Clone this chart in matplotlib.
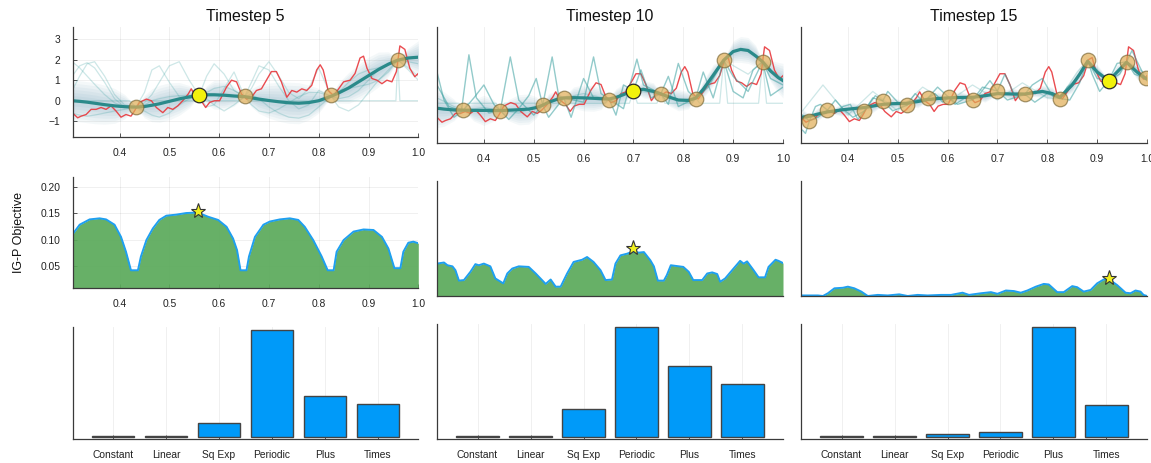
import numpy as np
import matplotlib
matplotlib.use("Agg")
import matplotlib.pyplot as plt

plt.rcParams['font.family'] = ['Liberation Sans', 'DejaVu Sans']

# ---------------- data ----------------
titles = ["Timestep 5", "Timestep 10", "Timestep 15"]
kernels = ["Constant", "Linear", "Sq Exp", "Periodic", "Plus", "Times"]

# true (noisy) function
red_x = [0.305,0.316,0.323,0.333,0.343,0.353,0.363,0.373,0.383,0.393,0.403,0.413,0.423,0.430,0.440,
         0.454,0.464,0.474,0.487,0.497,0.507,0.517,0.527,0.538,0.544,0.554,0.564,0.573,0.581,0.591,
         0.601,0.615,0.625,0.635,0.645,0.655,0.665,0.675,0.685,0.695,0.705,0.715,0.725,0.736,0.746,
         0.756,0.766,0.776,0.786,0.796,0.803,0.809,0.819,0.830,0.840,0.850,0.863,0.873,0.883,0.890,
         0.897,0.907,0.917,0.927,0.937,0.947,0.956,0.963,0.973,0.983,0.993,1.0]
red_y = [-0.58,-0.83,-0.75,-0.67,-0.42,-0.42,-0.33,-0.42,-0.25,-0.5,-0.8,-0.67,-0.75,-0.5,-0.08,
         0.08,0.0,-0.33,-0.58,-0.33,-0.42,-0.25,0.0,0.33,0.58,0.17,0.0,-0.33,-0.08,0.0,
         0.0,0.67,1.0,0.92,0.33,0.08,0.17,0.5,0.58,1.0,1.42,1.42,0.92,0.17,0.5,
         0.42,0.58,0.5,0.75,1.5,1.75,1.5,0.5,0.25,0.58,0.92,1.0,1.33,2.08,2.17,
         1.58,1.08,1.0,0.83,1.0,0.92,1.42,2.67,2.5,1.58,1.17,1.33]

# observations (all 15), with the point added at each shown timestep
obs_x = [0.323,0.359,0.433,0.47,0.518,0.56,0.602,0.651,0.70,0.755,0.825,0.881,0.923,0.959,0.997]
obs_y = [-0.76,-0.27,-0.31,0.16,-0.05,0.28,0.33,0.22,0.62,0.47,0.27,2.05,1.1,1.98,1.2]
obs_used = [[2,5,7,10,13],
            [1,2,4,5,7,8,9,10,11,13],
            list(range(15))]
new_point = [5, 8, 12]

# ---- panel 1 (timestep 5) posterior ----
gx1 = [0.305,0.32,0.335,0.35,0.37,0.39,0.41,0.433,0.45,0.465,0.48,0.50,0.52,0.54,0.56,0.575,0.59,0.61,0.63,
       0.651,0.665,0.68,0.70,0.72,0.74,0.76,0.78,0.80,0.825,0.84,0.86,0.88,0.90,0.92,0.94,0.959,0.98,1.0]
mean1 = [0.0,-0.03,-0.07,-0.12,-0.19,-0.25,-0.29,-0.31,-0.28,-0.22,-0.15,-0.03,0.09,0.19,0.26,0.29,0.29,0.27,0.23,
         0.2,0.14,0.08,0.01,-0.05,-0.1,-0.12,-0.09,0.0,0.22,0.38,0.62,0.92,1.22,1.52,1.78,1.98,2.08,2.12]
half1 = [1.0,1.0,1.0,1.0,0.95,0.85,0.6,0.05,0.55,0.8,0.9,0.9,0.8,0.55,0.05,0.45,0.7,0.7,0.5,
         0.05,0.45,0.7,0.85,0.95,1.0,1.0,0.85,0.6,0.05,0.5,0.75,0.85,0.9,0.85,0.6,0.05,0.5,0.8]
s1a = [1.2,1.7,1.85,1.6,0.9,0.1,-0.3,-0.31,0.4,1.5,1.7,0.9,0.2,0.1,0.26,1.2,1.8,1.3,0.5,
       0.2,0.9,1.7,1.5,0.7,0.0,-0.4,-0.2,0.5,0.22,0.4,0.9,1.3,1.5,1.6,1.8,1.98,1.9,1.8]
s1b = [-0.6,-0.7,-0.75,-0.7,-0.6,-0.5,-0.42,-0.31,-0.2,0.0,0.1,0.2,0.25,0.27,0.26,0.1,-0.2,-0.5,-0.2,
       0.2,0.3,0.1,-0.3,-0.6,-0.8,-0.85,-0.7,-0.3,0.22,0.5,0.6,0.7,0.8,1.0,1.4,1.98,1.5,1.0]
s1c = [1.9,1.6,1.2,0.8,0.3,-0.1,-0.3,-0.31,-0.5,-0.7,-0.8,-0.6,-0.2,0.1,0.26,0.4,0.6,0.7,0.5,
       0.2,-0.2,-0.5,-0.6,-0.4,-0.1,0.2,0.4,0.4,0.22,0.1,0.2,0.5,1.0,1.5,1.8,1.98,2.1,2.15]
s1e = [0.5,1.2,1.8,1.9,1.2,0.3,-0.2,-0.31,-0.1,0.3,0.9,1.7,1.9,1.0,0.26,-0.3,-0.2,0.6,1.4,
       0.2,0.6,1.3,1.9,1.2,0.4,0.1,0.6,1.6,0.22,-0.3,-0.5,-0.2,0.4,1.0,1.5,1.98,1.6,1.2]
s1d_x = [0.305,0.42,0.433,0.445,0.55,0.56,0.57,0.64,0.651,0.66,0.815,0.825,0.835,0.955,0.959,0.963,1.0]
s1d_y = [0.0,0.0,-0.31,0.0,0.0,0.26,0.0,0.0,0.2,0.0,0.0,0.22,0.0,0.0,1.98,0.0,0.0]

# ---- panel 2 (timestep 10) posterior ----
gx2 = [0.306,0.32,0.34,0.359,0.38,0.40,0.42,0.433,0.45,0.47,0.49,0.505,0.518,0.53,0.545,0.56,0.58,0.60,0.62,0.635,
       0.651,0.665,0.68,0.70,0.72,0.74,0.755,0.77,0.79,0.81,0.825,0.84,0.86,0.881,0.90,0.915,0.93,0.945,0.959,
       0.975,0.99,1.0]
mean2 = [-0.18,-0.22,-0.26,-0.27,-0.28,-0.28,-0.28,-0.29,-0.27,-0.25,-0.22,-0.15,-0.04,0.1,0.22,0.3,0.31,0.3,0.28,0.26,
         0.25,0.32,0.45,0.64,0.7,0.6,0.49,0.35,0.2,0.18,0.29,0.7,1.35,2.05,2.45,2.55,2.5,2.25,1.98,
         1.55,1.25,1.1]
half2 = [0.9,0.8,0.5,0.05,0.5,0.7,0.5,0.05,0.5,0.7,0.7,0.5,0.05,0.4,0.4,0.05,0.5,0.6,0.6,0.5,
         0.05,0.4,0.5,0.05,0.4,0.4,0.05,0.4,0.5,0.4,0.05,0.4,0.5,0.05,0.5,0.6,0.6,0.5,0.05,
         0.5,0.7,0.8]
s2a_x = [0.306,0.33,0.355,0.37,0.385,0.41,0.433,0.453,0.47,0.50,0.518,0.537,0.55,0.56,0.60,0.62,0.635,0.651,
         0.68,0.707,0.72,0.755,0.77,0.79,0.81,0.825,0.85,0.881,0.90,0.93,0.959,0.975,1.0]
s2a_y = [0.9,-0.1,-0.3,2.3,0.3,-0.4,-0.29,2.2,0.2,-0.5,-0.04,2.2,0.4,0.3,0.1,2.2,0.5,0.25,
         -0.2,2.1,0.9,0.49,0.0,1.9,0.6,0.29,0.8,2.05,1.3,0.6,1.98,1.2,0.9]
s2b_x = [0.306,0.32,0.34,0.359,0.38,0.40,0.42,0.433,0.45,0.47,0.49,0.505,0.518,0.53,0.56,0.575,0.59,0.60,0.62,
         0.651,0.665,0.68,0.70,0.715,0.735,0.755,0.77,0.79,0.825,0.84,0.86,0.881,0.90,0.92,0.94,0.959,0.975,1.0]
s2b_y = [1.5,0.2,-0.6,-0.27,0.3,0.9,0.0,-0.29,-0.7,-0.2,0.4,1.2,-0.04,-0.6,0.3,-0.6,0.5,1.2,0.3,
         0.25,-0.5,0.9,0.64,1.6,0.3,0.49,1.3,-0.1,0.29,1.5,0.3,2.05,0.6,0.3,1.6,1.98,0.4,0.8]
s2c_x = [0.306,0.34,0.359,0.40,0.433,0.47,0.518,0.56,0.60,0.651,0.70,0.755,0.79,0.825,0.85,0.881,0.90,0.93,0.959,0.98,1.0]
s2c_y = [0.3,-0.1,-0.27,-0.15,-0.29,-0.4,-0.04,0.3,0.5,0.25,0.64,0.49,0.2,0.29,1.0,2.05,1.8,1.4,1.98,1.5,1.2]
s2d_x = [0.306,0.35,0.359,0.368,0.425,0.433,0.441,0.51,0.518,0.526,0.552,0.56,0.568,0.643,0.651,0.659,0.692,0.70,
         0.708,0.747,0.755,0.763,0.817,0.825,0.833,0.873,0.881,0.889,0.951,0.959,0.967,1.0]
s2d_y = [0.05,0.05,-0.27,0.05,0.05,-0.29,0.05,0.05,-0.04,0.05,0.05,0.3,0.05,0.05,0.25,0.05,0.05,0.64,
         0.05,0.05,0.49,0.05,0.05,0.29,0.05,0.05,2.05,0.05,0.05,1.98,0.05,0.05]

# ---- panel 3 (timestep 15) posterior ----
gx3 = [0.309,0.323,0.34,0.359,0.39,0.41,0.433,0.45,0.47,0.49,0.518,0.54,0.56,0.58,0.602,0.625,0.651,0.675,0.70,0.73,
       0.755,0.79,0.81,0.825,0.85,0.865,0.881,0.90,0.923,0.94,0.959,0.98,0.997,1.0]
mean3 = [-0.6,-0.55,-0.45,-0.35,-0.25,-0.2,-0.15,-0.08,0.0,0.03,0.05,0.13,0.22,0.27,0.3,0.32,0.33,0.4,0.5,0.48,
         0.48,0.6,0.5,0.32,0.9,1.4,2.0,1.5,1.1,1.5,1.95,1.5,1.2,1.18]
half3 = [0.4,0.05,0.3,0.05,0.3,0.3,0.05,0.3,0.05,0.3,0.05,0.3,0.05,0.3,0.05,0.3,0.05,0.3,0.05,0.3,
         0.05,0.3,0.3,0.05,0.35,0.35,0.05,0.35,0.05,0.35,0.05,0.35,0.05,0.2]
s3a_x = [0.309,0.315,0.323,0.335,0.345,0.359,0.375,0.39,0.405,0.42,0.433,0.45,0.47,0.48,0.50,0.518,0.535,0.548,
         0.56,0.575,0.59,0.602,0.615,0.635,0.651,0.665,0.685,0.70,0.715,0.735,0.755,0.77,0.79,0.81,0.825,0.845,
         0.865,0.881,0.89,0.905,0.923,0.94,0.959,0.97,0.98,0.997,1.0]
s3a_y = [-1.2,-1.35,-0.76,-0.1,0.0,-0.27,-0.4,-0.1,0.0,-0.7,-0.31,0.3,0.16,0.6,0.1,-0.05,0.5,0.2,
         0.28,0.5,0.1,0.33,0.0,0.3,0.22,0.5,1.1,0.62,1.4,0.4,0.47,0.9,1.2,0.4,0.27,0.2,
         1.0,2.05,1.4,0.6,1.1,1.9,1.98,2.5,2.0,1.2,1.1]
s3b_x = [0.309,0.323,0.34,0.359,0.375,0.39,0.41,0.433,0.455,0.47,0.49,0.518,0.535,0.56,0.58,0.602,0.62,0.651,
         0.67,0.70,0.72,0.755,0.775,0.80,0.825,0.84,0.86,0.881,0.90,0.923,0.945,0.959,0.975,0.997,1.0]
s3b_y = [-0.5,-0.76,-0.6,-0.27,0.2,-0.2,-0.6,-0.31,0.4,0.16,-0.3,-0.05,0.2,0.28,0.8,0.33,0.0,0.22,
         0.8,0.62,0.2,0.47,0.1,0.5,0.27,0.8,1.2,2.05,1.2,1.1,1.4,1.98,1.4,1.2,1.3]
s3c_x = [0.309,0.35,0.40,0.45,0.50,0.55,0.60,0.65,0.70,0.75,0.80,0.825,0.86,0.881,0.923,0.959,1.0]
s3c_y = [-0.3,0.9,-0.5,0.6,-0.3,0.8,0.1,0.9,0.2,1.0,0.3,0.27,1.5,2.05,1.1,1.98,1.4]

# ---- IG-P objective ----
obj1_x = [0.305,0.32,0.34,0.36,0.373,0.39,0.403,0.413,0.423,0.437,0.443,0.454,0.467,0.48,0.494,0.514,0.534,0.557,
          0.578,0.598,0.615,0.628,0.636,0.643,0.655,0.66,0.672,0.689,0.702,0.722,0.742,0.759,0.772,0.789,0.806,
          0.818,0.83,0.836,0.85,0.87,0.89,0.91,0.927,0.94,0.952,0.964,0.97,0.98,0.99,1.0]
obj1_y = [0.109,0.128,0.138,0.14,0.138,0.128,0.105,0.077,0.042,0.042,0.068,0.099,0.121,0.137,0.145,0.147,0.15,0.151,
          0.143,0.137,0.124,0.102,0.08,0.042,0.042,0.068,0.105,0.128,0.134,0.138,0.14,0.137,0.124,0.099,0.068,
          0.042,0.042,0.077,0.099,0.115,0.119,0.118,0.105,0.083,0.046,0.046,0.077,0.094,0.096,0.093]
obj2_x = [0.306,0.32,0.327,0.337,0.343,0.35,0.36,0.373,0.383,0.39,0.40,0.413,0.423,0.439,0.447,0.457,0.47,0.49,
          0.504,0.524,0.534,0.544,0.554,0.567,0.58,0.597,0.607,0.62,0.634,0.644,0.657,0.664,0.674,0.687,0.699,
          0.711,0.721,0.734,0.741,0.749,0.761,0.767,0.775,0.80,0.811,0.82,0.838,0.848,0.858,0.868,0.874,0.884,
          0.898,0.914,0.921,0.928,0.941,0.951,0.964,0.971,0.985,0.991,1.0]
obj2_y = [0.067,0.069,0.064,0.062,0.055,0.036,0.037,0.052,0.066,0.064,0.067,0.062,0.04,0.031,0.049,0.058,0.062,0.061,
          0.049,0.030,0.038,0.025,0.025,0.049,0.070,0.074,0.079,0.070,0.055,0.037,0.038,0.067,0.082,0.085,0.089,
          0.087,0.088,0.073,0.062,0.036,0.036,0.046,0.064,0.061,0.052,0.037,0.037,0.049,0.051,0.048,0.034,0.040,
          0.055,0.072,0.067,0.071,0.055,0.042,0.042,0.061,0.074,0.072,0.068]
obj3_x = [0.309,0.34,0.35,0.36,0.373,0.39,0.40,0.413,0.427,0.44,0.46,0.48,0.503,0.52,0.54,0.56,0.587,0.607,0.63,
          0.643,0.667,0.687,0.70,0.717,0.733,0.747,0.76,0.777,0.793,0.803,0.82,0.833,0.85,0.86,0.873,0.887,0.90,
          0.913,0.923,0.94,0.957,0.967,0.977,0.987,0.993,1.0]
obj3_y = [0.009,0.009,0.008,0.013,0.022,0.023,0.025,0.022,0.016,0.008,0.010,0.009,0.011,0.008,0.010,0.009,0.010,0.010,0.014,
          0.010,0.013,0.015,0.012,0.018,0.017,0.014,0.018,0.025,0.030,0.029,0.015,0.015,0.026,0.024,0.016,0.019,0.031,
          0.038,0.039,0.028,0.014,0.013,0.018,0.016,0.010,0.008]
star_x = [0.557, 0.70, 0.923]
star_y = [0.153, 0.096, 0.040]

# ---- kernel posterior (relative) ----
kern_vals = [[0.005, 0.005, 0.125, 1.0, 0.38, 0.31],
             [0.005, 0.005, 0.25, 1.0, 0.645, 0.48],
             [0.005, 0.005, 0.027, 0.043, 1.0, 0.29]]

# ---------------- figure ----------------
W, H = 1151, 463
fig = plt.figure(figsize=(W / 100, H / 100), dpi=100)

def add_ax(x0, x1, ytop, ybot):
    return fig.add_axes([x0 / W, 1 - ybot / H, (x1 - x0) / W, (ybot - ytop) / H])

AXC = '#3a3a3a'
def style(ax):
    for s in ['top', 'right']:
        ax.spines[s].set_visible(False)
    for s in ['left', 'bottom']:
        ax.spines[s].set_color(AXC)
        ax.spines[s].set_linewidth(0.9)
    ax.tick_params(direction='in', length=3, width=0.6, color=AXC, labelsize=7.4,
                   labelcolor='#222222')
    ax.tick_params(axis='x', pad=8)
    ax.tick_params(axis='y', pad=9)
    ax.grid(True, color='#000000', alpha=0.07, lw=0.6)
    ax.set_axisbelow(True)

cols = [(72.7, 418.3), (437, 783), (801, 1147)]
top_rows = [(27, 137.3), (27, 142.7), (27, 142.7)]
mid_rows = [(177, 288.3), (180.7, 296), (180.7, 296)]
bot_rows = [(326.7, 439.3), (324, 439.3), (324, 439.3)]

BAND = '#4d8aa6'
SAMP = '#3aa0a0'
TEAL = '#2a8a8a'
RED = '#e8383d'

posts = [
    (gx1, mean1, half1, [(gx1, s1a), (gx1, s1b), (gx1, s1c), (gx1, s1e), (s1d_x, s1d_y)], []),
    (gx2, mean2, half2, [(s2c_x, s2c_y), (s2d_x, s2d_y)], [(s2a_x, s2a_y), (s2b_x, s2b_y)]),
    (gx3, mean3, half3, [(s3c_x, s3c_y)], [(s3a_x, s3a_y), (s3b_x, s3b_y)]),
]

xticks = [0.4, 0.5, 0.6, 0.7, 0.8, 0.9, 1.0]
for i in range(3):
    gx, mu, hw, faint, strong = posts[i]
    gx = np.array(gx); mu = np.array(mu); hw = np.array(hw)
    ax = add_ax(cols[i][0], cols[i][1], *top_rows[i])
    style(ax)
    for f in [1.0, 0.85, 0.7, 0.55, 0.4, 0.25]:
        ax.fill_between(gx, mu - f * hw, mu + f * hw, color=BAND, alpha=0.06, lw=0)
    for sx, sy in faint:
        ax.plot(sx, sy, color=SAMP, lw=0.9, alpha=0.25)
    ax.plot(red_x, red_y, color=RED, lw=1.0, alpha=0.9)
    for sx, sy in strong:
        ax.plot(sx, sy, color=SAMP, lw=1.0, alpha=0.55)
    ax.plot(gx, mu, color=TEAL, lw=2.3)
    used = [k for k in obs_used[i] if k != new_point[i]]
    ax.scatter([obs_x[k] for k in used], [obs_y[k] for k in used], s=110,
               facecolor='#e0ad55', edgecolor='#7d6a38', alpha=0.7, lw=0.9, zorder=5)
    ax.scatter([obs_x[new_point[i]]], [obs_y[new_point[i]]], s=110,
               facecolor='#f2f20c', edgecolor='#2a2a2a', lw=0.9, zorder=6)
    ax.set_xlim(0.306, 1.0)
    ax.set_ylim(-1.78, 3.59)
    ax.set_xticks(xticks)
    ax.set_xticklabels(['%.1f' % v for v in xticks])
    if i == 0:
        ax.set_yticks([-1, 0, 1, 2, 3])
        ax.set_yticklabels(['\u22121', '0', '1', '2', '3'])
    else:
        ax.set_yticks([])
    ax.set_title(titles[i], fontsize=11.5, color='#111111', pad=4)

objs = [(obj1_x, obj1_y), (obj2_x, obj2_y), (obj3_x, obj3_y)]
for i in range(3):
    ax = add_ax(cols[i][0], cols[i][1], *mid_rows[i])
    style(ax)
    ox, oy = objs[i]
    ax.fill_between(ox, 0, oy, color='#5aaa5a', alpha=0.92, lw=0)
    ax.plot(ox, oy, color='#1e9ff0', lw=1.4)
    ax.plot([star_x[i]], [star_y[i]], marker='*', ms=11, mfc='#f0f020', mec='#333333',
            mew=0.8, zorder=6)
    ax.set_xlim(0.306, 1.0)
    ax.set_ylim(0.008, 0.218)
    if i == 0:
        ax.set_xticks(xticks)
        ax.set_xticklabels(['%.1f' % v for v in xticks])
        ax.set_yticks([0.05, 0.10, 0.15, 0.20])
        ax.set_yticklabels(['0.05', '0.10', '0.15', '0.20'])
        ax.set_ylabel('IG-P Objective', fontsize=9, color='#111111', labelpad=11)
    else:
        ax.set_xticks([])
        ax.set_yticks([])
        ax.grid(False)

for i in range(3):
    ax = add_ax(cols[i][0], cols[i][1], *bot_rows[i])
    style(ax)
    pos = np.arange(1, 7)
    ax.bar(pos, kern_vals[i], width=0.8, color='#009af9', edgecolor='#444444', lw=1.0, zorder=3)
    ax.set_xlim(0.235, 6.765)
    ax.set_ylim(-0.024, 1.03)
    ax.set_xticks(pos)
    ax.set_xticklabels(kernels)
    ax.set_yticks([])
    ax.grid(True, axis='x', color='#000000', alpha=0.07, lw=0.6)
    ax.grid(False, axis='y')

fig.savefig('out.png', dpi=100)
